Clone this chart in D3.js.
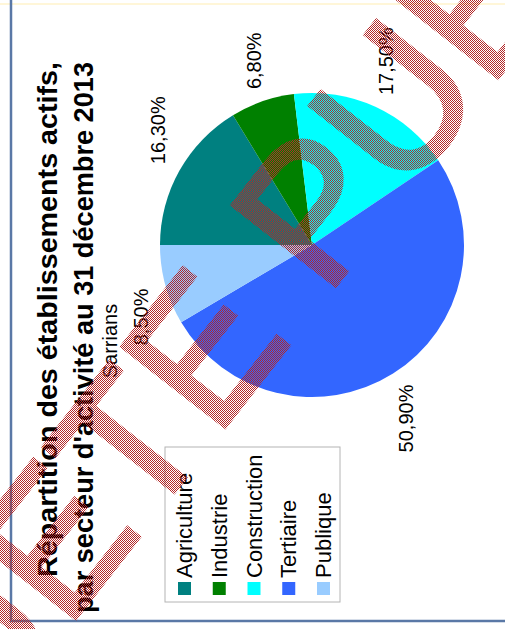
<!DOCTYPE html>
<html>
<head>
<meta charset="utf-8">
<script src="https://cdn.jsdelivr.net/npm/d3@7"></script>
<style>
  html, body { margin: 0; padding: 0; background: #ffffff; }
  svg { display: block; }
  text { font-family: "Liberation Sans", Arial, sans-serif; }
</style>
</head>
<body>
<div id="chart"></div>
<script>
// Répartition des établissements actifs par secteur (Sarrians, 31/12/2013)
const categories = ["Agriculture", "Industrie", "Construction", "Tertiaire", "Publique"];
const shares = [16.3, 6.8, 17.5, 50.9, 8.5];
const sliceColors = ["#008080", "#008000", "#00FFFF", "#3366FF", "#99CCFF"];
const titleLines = [
  "Répartition des établissements actifs,",
  "par secteur d'activité au 31 décembre 2013"
];
const subtitle = "Sarrians";
const stampText = "ENQUETE PUBLIQUE";

const W = 505, H = 629;
const svg = d3.select("#chart").append("svg")
  .attr("width", W).attr("height", H);

const defs = svg.append("defs");
// 1px checkerboard used as a screen for the stamp
const pat = defs.append("pattern")
  .attr("id", "checker").attr("patternUnits", "userSpaceOnUse")
  .attr("width", 2).attr("height", 2);
pat.append("rect").attr("x", 0).attr("y", 0).attr("width", 1).attr("height", 1).attr("fill", "#fff");
pat.append("rect").attr("x", 1).attr("y", 1).attr("width", 1).attr("height", 1).attr("fill", "#fff");
defs.append("mask").attr("id", "screen")
  .attr("maskUnits", "userSpaceOnUse")
  .attr("x", 0).attr("y", 0).attr("width", W).attr("height", H)
  .append("rect").attr("width", W).attr("height", H).attr("fill", "url(#checker)");

svg.append("rect").attr("width", W).attr("height", H).attr("fill", "#fff");

// Page frame
svg.append("line").attr("x1", 0).attr("x2", W).attr("y1", 4).attr("y2", 4)
  .attr("stroke", "#fff6d8").attr("stroke-width", 2);
svg.append("line").attr("x1", 11).attr("x2", 11).attr("y1", 0).attr("y2", 622)
  .attr("stroke", "#5a78a6").attr("stroke-width", 2.5);
svg.append("line").attr("x1", 10).attr("x2", W).attr("y1", 621).attr("y2", 621)
  .attr("stroke", "#5a78a6").attr("stroke-width", 2.5);

// The chart is laid out in a landscape frame, then turned a quarter turn
const chart = svg.append("g")
  .attr("transform", `translate(0,${H}) rotate(-90)`);

// Title
const titleX = 567;
const titleY = [57, 93];
const titleLen = [515, 551];
titleLines.forEach((t, i) => {
  chart.append("text")
    .attr("x", titleX).attr("y", titleY[i])
    .attr("text-anchor", "end")
    .attr("font-size", 27.5).attr("font-weight", "bold")
    .attr("fill", "#000")
    .attr("textLength", titleLen[i]).attr("lengthAdjust", "spacingAndGlyphs")
    .text(t);
});
chart.append("text")
  .attr("x", 288).attr("y", 117)
  .attr("text-anchor", "middle")
  .attr("font-size", 20).attr("fill", "#000")
  .text(subtitle);

// Pie
const cx = 384, cy = 312, R = 152;
const pie = d3.pie().sort(null).value(d => d);
const arcs = pie(shares);
const arc = d3.arc().innerRadius(0).outerRadius(R);
const color = d3.scaleOrdinal().domain(categories).range(sliceColors);

const pg = chart.append("g").attr("transform", `translate(${cx},${cy})`);
pg.selectAll("path.slice").data(arcs).enter().append("path")
  .attr("class", "slice")
  .attr("d", arc)
  .attr("fill", (d, i) => color(categories[i]));

// Outside value labels
const fmt = v => d3.format(".2f")(v).replace(".", ",") + "%";
const labelR = R + 13;
pg.selectAll("text.val").data(arcs).enter().append("text")
  .attr("class", "val")
  .each(function (d) {
    const a = (d.startAngle + d.endAngle) / 2;
    const dx = Math.sin(a), dy = -Math.cos(a);
    d3.select(this)
      .attr("x", labelR * dx)
      .attr("y", labelR * dy + dy * 12)
      .attr("text-anchor", dx >= 0 ? "start" : "end");
  })
  .attr("dominant-baseline", "central")
  .attr("font-size", 20).attr("fill", "#000")
  .text(d => fmt(d.data));

// Legend
const lg = chart.append("g");
lg.append("rect")
  .attr("x", 27).attr("y", 165).attr("width", 155).attr("height", 175)
  .attr("fill", "#fff").attr("stroke", "#b4b4b4").attr("stroke-width", 1);
const ly = d3.scalePoint().domain(categories).range([184.5, 323.5]);
categories.forEach(c => {
  lg.append("rect")
    .attr("x", 34).attr("y", ly(c) - 6.5).attr("width", 13).attr("height", 13)
    .attr("fill", color(c));
  lg.append("text")
    .attr("x", 51).attr("y", ly(c))
    .attr("dominant-baseline", "central")
    .attr("font-size", 22).attr("fill", "#000")
    .text(c);
});

// Screened stamp across the page
const stamp = svg.append("g").attr("mask", "url(#screen)");
stamp.append("text")
  .attr("transform", "translate(-272,1063) rotate(-52)")
  .attr("font-size", 190)
  .attr("fill", "#b42828")
  .attr("stroke", "#b42828").attr("stroke-width", 4)
  .attr("stroke-linejoin", "miter")
  .text(stampText);
</script>
</body>
</html>
